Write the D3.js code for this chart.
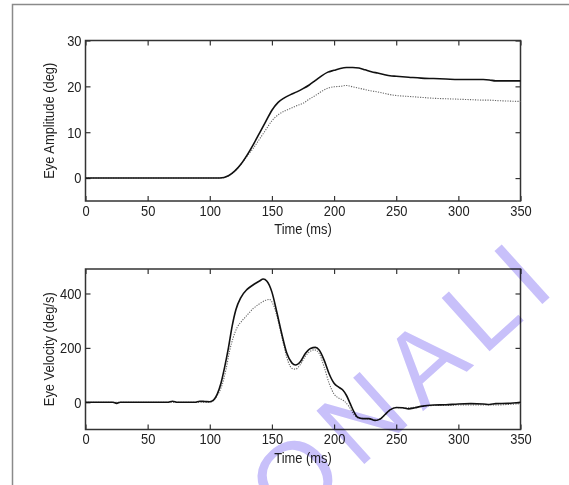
<!DOCTYPE html>
<html><head><meta charset="utf-8">
<script src="https://cdn.jsdelivr.net/npm/d3@7/dist/d3.min.js"></script>
<style>
body{margin:0;background:#fff;}
text{font-family:"Liberation Sans",Arial,sans-serif;}
</style></head>
<body>
<svg id="chart" width="569" height="485"></svg>
<script>
// ---- data ----
const xTicks = [0, 50, 100, 150, 200, 250, 300, 350];
const ampTicks = [0, 10, 20, 30];
const velTicks = [0, 200, 400];

const ampTime = [0, 108, 115, 120, 125, 130, 135, 140, 145, 150, 155, 160, 165, 170, 175, 180, 185, 190, 195, 200, 205, 210, 215, 220, 225, 230, 235, 240, 245, 250, 260, 270, 280, 290, 300, 310, 320, 325, 330, 340, 350];
const ampSolid = [0, 0, 0.5, 1.5, 3, 5, 7.3, 9.8, 12.3, 14.8, 16.5, 17.5, 18.2, 18.8, 19.5, 20.3, 21.3, 22.3, 23.1, 23.5, 23.9, 24.1, 24.1, 24.0, 23.6, 23.2, 22.9, 22.6, 22.3, 22.2, 22.0, 21.8, 21.7, 21.6, 21.5, 21.5, 21.5, 21.4, 21.2, 21.2, 21.2];
const ampDotted = [0, 0, 0.5, 1.5, 3, 4.8, 6.5, 8.5, 10.5, 12.5, 13.8, 14.6, 15.2, 15.8, 16.3, 17.2, 18.0, 18.9, 19.6, 19.9, 20.0, 20.2, 19.9, 19.6, 19.3, 19.0, 18.8, 18.5, 18.2, 18.0, 17.8, 17.6, 17.4, 17.3, 17.2, 17.1, 17.0, 17.0, 16.9, 16.8, 16.7];

const velTimeS = [0, 22, 25, 28, 66, 70, 74, 88, 92, 96, 100, 103, 106, 109, 112, 115, 118, 121, 125, 130, 135, 140, 143, 146, 150, 154, 158, 162, 166, 169, 173, 177, 181, 185, 188, 192, 196, 200, 204, 207, 210, 213, 216, 219, 223, 228, 233, 237, 241, 245, 250, 255, 260, 265, 270, 280, 290, 300, 310, 320, 325, 330, 340, 350];
const velSolid = [0, 0, -4, 0, 0, 4, 0, 0, 4, 3, 2, 8, 30, 70, 130, 200, 280, 340, 385, 415, 432, 446, 453, 445, 405, 330, 250, 180, 145, 137, 150, 180, 198, 202, 192, 155, 105, 70, 55, 45, 25, -5, -35, -55, -60, -60, -67, -62, -45, -28, -19, -20, -24, -20, -15, -10, -9, -6, -5, -6, -8, -5, -4, 0];
const velTimeD = [0, 100, 106, 110, 113, 116, 119, 122, 126, 130, 135, 140, 145, 148, 151, 155, 159, 163, 166, 169, 173, 177, 181, 184, 188, 192, 196, 200, 204, 208, 212, 216, 220, 225, 230, 235, 240, 245, 250, 260, 270, 280, 290, 300, 310, 320, 330, 340, 350];
const velDotted = [0, 0, 25, 65, 120, 190, 240, 275, 300, 320, 345, 362, 375, 378, 360, 300, 220, 150, 125, 122, 140, 170, 188, 193, 180, 130, 70, 30, 15, 5, -15, -45, -58, -60, -62, -65, -50, -30, -20, -20, -15, -12, -12, -10, -10, -10, -10, -8, -5];

// ---- drawing ----
const SX = 0.86; // horizontal condensing of the narrow typeface
const svg = d3.select("#chart");
svg.append("rect").attr("width", 569).attr("height", 485).attr("fill", "#fff");
svg.append("path").attr("d", "M12.5,485V4.5H569").attr("fill", "none").attr("stroke", "#8a8a8a").attr("stroke-width", 1.5);

const x = d3.scaleLinear().domain([0, 350]).range([85.5, 520.5]);

function narrow(sel) {
  sel.each(function() {
    const t = d3.select(this);
    const xv = +(t.attr("x") || 0);
    t.attr("x", xv / SX).attr("transform", `scale(${SX},1)`);
  });
}

function panel(top, bottom, yDomain, yTicks, yTitle, t, s, td, d) {
  const y = d3.scaleLinear().domain(yDomain).range([bottom, top]);
  const g = svg.append("g");
  const axColor = "#333";
  const fs = "15px";
  const ab = g.append("g").attr("transform", `translate(0,${bottom})`)
    .call(d3.axisBottom(x).tickValues(xTicks).tickSize(-5).tickPadding(4).tickFormat(d3.format("d")));
  const at = g.append("g").attr("transform", `translate(0,${top})`)
    .call(d3.axisTop(x).tickValues(xTicks).tickSize(-5).tickFormat(""));
  const al = g.append("g").attr("transform", `translate(${x.range()[0]},0)`)
    .call(d3.axisLeft(y).tickValues(yTicks).tickSize(-5).tickPadding(4).tickFormat(d3.format("d")));
  const ar = g.append("g").attr("transform", `translate(${x.range()[1]},0)`)
    .call(d3.axisRight(y).tickValues(yTicks).tickSize(-5).tickFormat(""));
  [ab, at, al, ar].forEach(a => {
    a.select(".domain").remove();
    a.selectAll("line").attr("stroke", axColor).attr("stroke-width", 1.2);
    a.selectAll("text").attr("fill", "#222").style("font-size", fs).call(narrow);
  });
  g.append("rect").attr("x", x.range()[0]).attr("y", top)
    .attr("width", x.range()[1] - x.range()[0]).attr("height", bottom - top)
    .attr("fill", "none").attr("stroke", axColor).attr("stroke-width", 1.5);

  const line = d3.line().x(p => x(p[0])).y(p => y(p[1])).curve(d3.curveMonotoneX);
  g.append("path").datum(td.map((v, i) => [v, d[i]])).attr("d", line)
    .attr("fill", "none").attr("stroke", "#666").attr("stroke-width", 1.1).attr("stroke-dasharray", "1.2,1.3");
  g.append("path").datum(t.map((v, i) => [v, s[i]])).attr("d", line)
    .attr("fill", "none").attr("stroke", "#111").attr("stroke-width", 1.6);

  g.append("text").attr("transform", `translate(${(x.range()[0] + x.range()[1]) / 2},${bottom + 33}) scale(${SX},1)`)
    .attr("text-anchor", "middle").attr("fill", "#222").style("font-size", fs).text("Time (ms)");
  g.append("text").attr("transform", `translate(54,${(top + bottom) / 2}) rotate(-90) scale(${SX},1)`)
    .attr("text-anchor", "middle").attr("fill", "#222").style("font-size", fs).text(yTitle);
}

panel(40.5, 201, [-5, 30], ampTicks, "Eye Amplitude (deg)", ampTime, ampSolid, ampTime, ampDotted);
panel(269, 429.5, [-100, 490], velTicks, "Eye Velocity (deg/s)", velTimeS, velSolid, velTimeD, velDotted);

// watermark
svg.append("text").attr("transform", "translate(289,532) rotate(-42)")
  .attr("fill", "rgb(200,192,250)").style("mix-blend-mode", "multiply")
  .style("font-family", "'Liberation Sans',Arial,sans-serif").style("font-size", "104px")
  .style("letter-spacing", "12px")
  .text("ONALI");
</script>
</body></html>
